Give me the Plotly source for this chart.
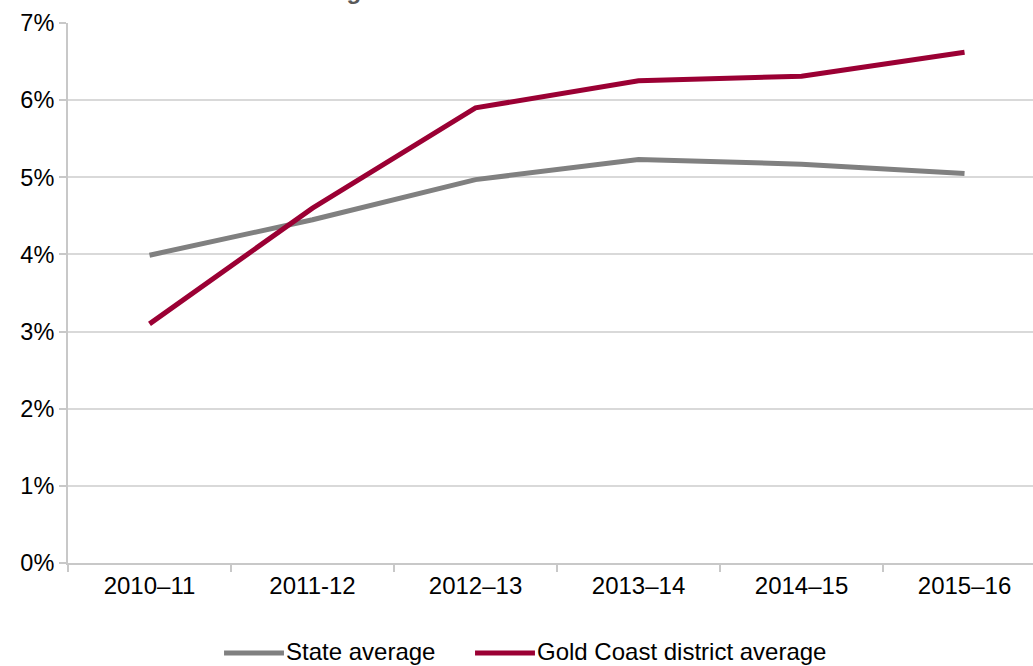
import plotly.graph_objects as go

categories = ["2010–11", "2011-12", "2012–13", "2013–14", "2014–15", "2015–16"]
state_avg = [3.99, 4.45, 4.97, 5.23, 5.17, 5.05]
gold_coast_avg = [3.10, 4.60, 5.90, 6.25, 6.31, 6.62]
y_ticks = [0, 1, 2, 3, 4, 5, 6, 7]
y_tick_labels = [f"{v}%" for v in y_ticks]
title_text = "Percentage between 2010–11 and 2015–16"
series_names = ["State average", "Gold Coast district average"]
series_colors = ["#808080", "#9b0034"]

FONT = "Liberation Sans, Arial, sans-serif"

fig = go.Figure()
for name, vals, col in zip(series_names, [state_avg, gold_coast_avg], series_colors):
    fig.add_trace(go.Scatter(
        x=categories, y=vals, mode="lines", name=name,
        line=dict(color=col, width=5), showlegend=False,
    ))

# custom legend (line sample + label), placed below the plot
legend_line_y = -0.1667
legend_text_y = -0.1648
legend_items = [(0.1617, 0.2238), (0.4218, 0.4839)]
shapes = []
annotations = []
for (x0, x1), name, col in zip(legend_items, series_names, series_colors):
    shapes.append(dict(type="line", xref="paper", yref="paper", x0=x0, x1=x1,
                       y0=legend_line_y, y1=legend_line_y, line=dict(color=col, width=5)))
    annotations.append(dict(text=name, xref="paper", yref="paper", x=x1, y=legend_text_y,
                            xanchor="left", yanchor="middle", showarrow=False,
                            font=dict(size=24, color="#000000", family=FONT)))

annotations.append(dict(
    text=f"<b>{title_text}</b>", xref="paper", yref="paper", x=0.432, y=1,
    xanchor="center", yanchor="bottom", yshift=17, showarrow=False,
    font=dict(size=24, color="#595959", family=FONT),
))

fig.update_layout(
    width=1033, height=666,
    margin=dict(l=68, r=0, t=23, b=103),
    paper_bgcolor="white", plot_bgcolor="white",
    font=dict(family=FONT, size=24, color="#000000"),
    showlegend=False,
    xaxis=dict(
        type="category", range=[-0.5, 5.42],
        showgrid=False, showline=True, linecolor="#c8c8c8", linewidth=2,
        ticks="outside", tickson="boundaries", ticklen=7, tickcolor="#c8c8c8", tickwidth=2,
        tickfont=dict(size=24, color="#000000"), zeroline=False,
    ),
    yaxis=dict(
        range=[0, 7], tickvals=y_ticks, ticktext=y_tick_labels,
        showgrid=True, gridcolor="#d9d9d9", gridwidth=2,
        showline=True, linecolor="#c8c8c8", linewidth=2,
        ticks="outside", ticklen=7, tickcolor="#c8c8c8", tickwidth=2,
        tickfont=dict(size=23.5, color="#000000"), zeroline=False,
    ),
    shapes=shapes,
    annotations=annotations,
)

fig.write_html("out.html")
